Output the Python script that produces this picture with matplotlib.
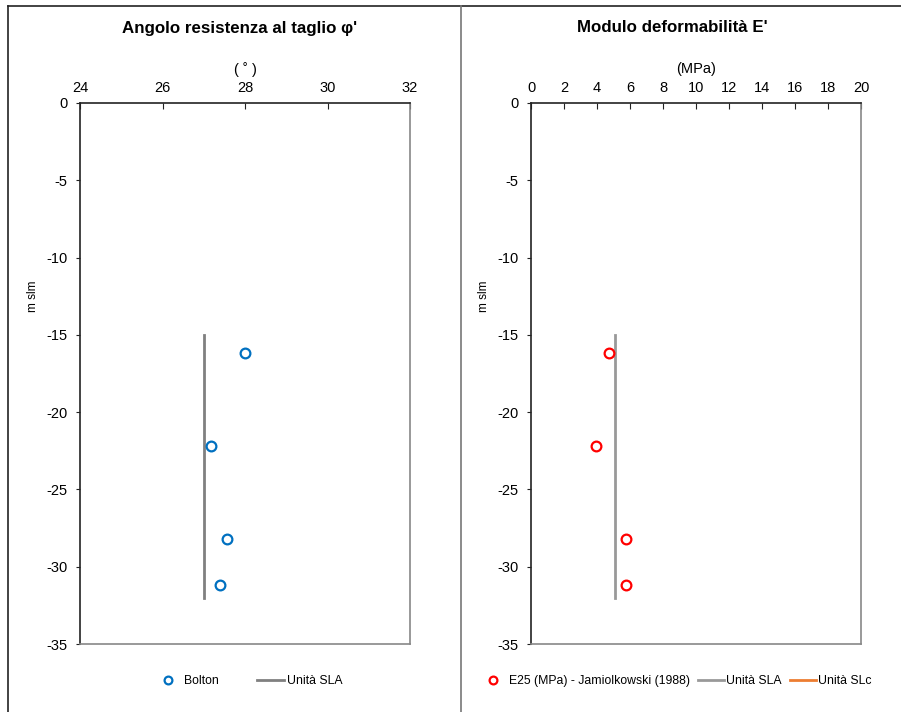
import matplotlib.pyplot as plt
import matplotlib as mpl
from matplotlib.lines import Line2D

mpl.rcParams['font.family'] = ['Liberation Sans', 'DejaVu Sans']
mpl.rcParams['font.size'] = 10.5
mpl.rcParams['axes.unicode_minus'] = False

# Angolo di resistenza al taglio (Bolton)
phi_vals = [28.0, 27.18, 27.56, 27.39]
phi_depth = [-16.2, -22.2, -28.2, -31.2]

# Modulo E25 (Jamiolkowski 1988)
e_vals = [4.73, 3.94, 5.76, 5.76]
e_depth = [-16.2, -22.2, -28.2, -31.2]

# Valori caratteristici unità SLA
sla_depth = [-15.0, -32.0]
sla_phi = [27.0, 27.0]
sla_e = [5.1, 5.1]

W, H = 901, 712
fig = plt.figure(figsize=(W / 100, H / 100), dpi=100)

# cornici dei due pannelli
fig.add_artist(Line2D([8/W, 8/W], [0, 1 - 6/H], color='#222222', lw=1.2))
fig.add_artist(Line2D([8/W, 1], [1 - 6/H, 1 - 6/H], color='#222222', lw=1.2))
fig.add_artist(Line2D([461/W, 461/W], [0, 1 - 6/H], color='#777777', lw=1.2))

ax1 = fig.add_axes([80/W, 1 - 644/H, 330/W, 541/H])
ax2 = fig.add_axes([531/W, 1 - 644/H, 330/W, 541/H])


def style_axis(ax, xlim, xticks, xlabel):
    ax.set_xlim(*xlim)
    ax.set_ylim(-35, 0)
    ax.set_xticks(xticks)
    ax.set_yticks(range(-35, 1, 5))
    ax.xaxis.tick_top()
    ax.tick_params(axis='x', direction='in', length=4, pad=6, colors='#222222',
                   labelcolor='black', labelsize=10.5)
    ax.tick_params(axis='y', direction='out', length=3, pad=6, colors='#222222',
                   labelcolor='black', labelsize=10.5)
    ax.set_xlabel(xlabel, fontsize=10.5)
    ax.xaxis.set_label_coords(0.5, 1.075)
    ax.set_ylabel('m slm', fontsize=8.5)
    ax.yaxis.set_label_coords(-0.125, 0.643)
    ax.spines['left'].set_color('#222222')
    ax.spines['top'].set_color('#222222')
    ax.spines['right'].set_color('#888888')
    ax.spines['bottom'].set_color('#888888')
    for s in ax.spines.values():
        s.set_linewidth(1.2)


style_axis(ax1, (24, 32), [24, 26, 28, 30, 32], '( ˚ )')
style_axis(ax2, (0, 20), range(0, 21, 2), '(MPa)')

fig.text(240/W, 1 - 28/H, "Angolo resistenza al taglio φ'", ha='center', va='center',
         fontsize=12.2, fontweight='bold')
fig.text(672/W, 1 - 28/H, "Modulo deformabilità E'", ha='center', va='center',
         fontsize=12.2, fontweight='bold')

ax1.plot(sla_phi, sla_depth, color='#808080', lw=2, label='Unità SLA', zorder=2)
ax1.plot(phi_vals, phi_depth, 'o', mfc='white', mec='#0070C0', mew=1.6, ms=7,
         label='Bolton', zorder=3)

ax2.plot(sla_e, sla_depth, color='#999999', lw=2, label='Unità SLA', zorder=2)
ax2.plot(e_vals, e_depth, 'o', mfc='white', mec='#FF0000', mew=1.6, ms=7,
         label='E25 (MPa) - Jamiolkowski (1988)', zorder=3)
# serie SLc senza dati, solo in legenda
ax2.plot([], [], color='#ED7D31', lw=2, label='Unità SLc')

h1, l1 = ax1.get_legend_handles_labels()
ax1.legend([h1[1], h1[0]], [l1[1], l1[0]], loc='center', bbox_to_anchor=(0.51, -0.069),
           ncol=2, frameon=False, fontsize=8.8, handlelength=2.2, handletextpad=0.2,
           columnspacing=3.2, markerscale=0.8)

h2, l2 = ax2.get_legend_handles_labels()
ax2.legend([h2[1], h2[0], h2[2]], [l2[1], l2[0], l2[2]], loc='center',
           bbox_to_anchor=(0.44, -0.069), ncol=3, frameon=False, fontsize=8.8,
           handlelength=2.1, handletextpad=0.2, columnspacing=0.7, markerscale=0.8)

fig.savefig('out.png', dpi=100)
